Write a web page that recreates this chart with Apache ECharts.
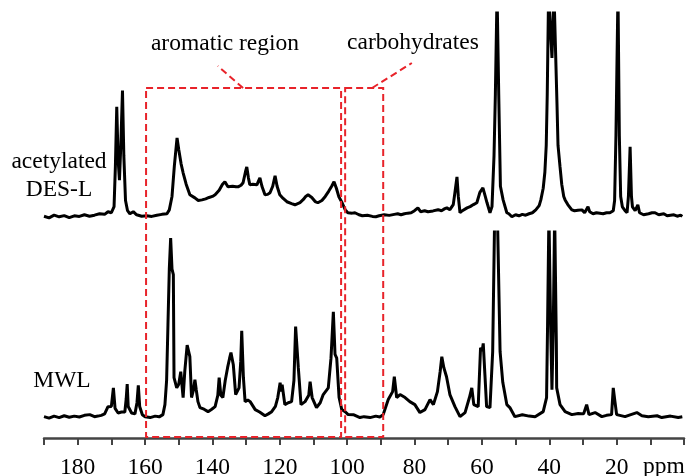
<!DOCTYPE html>
<html><head><meta charset="utf-8">
<script src="https://cdn.jsdelivr.net/npm/echarts@6/dist/echarts.min.js"></script>
<style>html,body{margin:0;padding:0;background:#fff}#c{width:690px;height:476px}</style>
</head><body><div id="c"></div>
<script>
// acetylated DES-L spectrum: [ppm, intensity]
const desL = [
[190,0.3],[188.5,-0.5],[187,0.8],[185.5,0],[184,0.6],[182.5,-0.4],[181,0.5],[179.5,0.2],[178,1.0],[176.5,0.3],[175,0.8],[173.5,1.5],[172,1.2],[171,2.5],[170,2.0],
[169.2,5],[168.8,25],[168.4,54],[168.0,28],[167.6,18],[167.2,35],[166.7,62],[166.3,30],[165.8,8],[165.2,3],[164.5,1.5],[163.5,2.5],[162.5,1],[161,0.3],[159.5,0.5],[158,0.2],[156.5,0.8],[155,1.2],[153.5,1.5],[152.8,3.4],
[152.0,10],[151.3,25],[150.5,38.7],[150.0,33],[149.3,26],[148.7,21.6],[147.8,16],[146.7,10.8],[145.2,9.3],[144.2,8],[143.1,8.3],[142,8.8],[141,9.5],[140,10],[139.2,10.8],
[138,13],[137,16],[136.3,17.2],[135.4,14.7],[134,15],[133,14.7],[132.4,14.7],[131.5,15.5],[130.9,16.7],[130.2,22],[129.8,24.5],[129.3,19],[128.9,15.7],[128,16],[126.8,15.7],[126.2,18],[125.9,19.1],[125.3,15],[124.4,10.8],[123.6,11],[122.9,11.8],[122.1,15],[121.4,20.1],[120.8,15],[120.0,10.8],
[119,9],[117.9,7.4],[116.5,6.5],[115.5,5.9],[114,7],[113,8.5],[112.3,10],[111.6,10.8],[110.5,9.5],[109.5,7.5],[108.7,6.9],[107.5,8],[106.5,10],[105.5,12.5],[104.6,15],[103.9,17.2],[103.2,14],[102.5,10],[101.5,6.9],[100.6,3.5],[99.8,2],
[98.5,1.8],[97.7,2],[96.5,1],[95.5,0.5],[94,0.8],[92.5,0.2],[91.5,0],[90.5,0.5],[89,1],[87.5,0.7],[86,1.2],[85,1.5],[84,1],[83,1.5],[82,1.8],[81,2],[80,3],[79,4.4],[78.2,2.5],[77,3],[76,2.5],[74.5,2.9],[74,2],[73,3.5],[72,3],[71,4],[70.4,4.4],[69.5,3.5],
[68.5,6],[68,12],[67.4,19.6],[67.0,10],[66.5,2],[65.8,3],[64.4,4.4],[63.5,5],[62.5,6],[61.5,6.9],[60.6,12],[59.7,14.2],[59.0,10],[58.5,7],[57.6,2],[57.0,5],[56.4,30],[56.0,60],[55.5,110],[55.0,60],[54.5,15],[53.7,8.3],[52.6,2],[52,1.5],[51.1,0],
[50,1],[49,0.5],[48,1.2],[47,0.8],[46,1.5],[45,2],[44,3.4],[43,5.5],[42.5,8.3],[41.8,14],[41.3,22],[40.9,35],[40.6,60],[40.2,110],[39.8,110],[39.2,78],[38.6,110],[38.2,110],[37.7,55],[37.4,35],[36.8,24.5],[36.3,16],[35.7,10],[35.3,8.3],[34.5,6],[33.3,3.4],[32.5,3],[31.5,3.2],[30.3,3.4],[29.5,2],[28.5,4.9],[28,2.5],[27,1.5],[26,2],[25.5,2],[24,1.5],[23,2],[22,2],
[21,3],[20.6,8],[20.2,40],[19.6,110],[19.2,40],[18.8,10],[18.3,4.9],[17.5,3],[16.9,2],[16.5,10],[16.0,34.3],[15.6,10],[15.3,4.9],[14.5,3],[13.7,5.9],[13.2,2],[12,1],[11.5,0.5],[10.5,1.5],[9.5,2],[8.6,2],[7.5,1],[6,1.5],[5,0.5],[4.7,0],[3,1],[2,0.3],[1,0.8],[0.5,0.2]
];
// MWL spectrum: [ppm, intensity]
const mwl = [
[190,0.5],[188.5,-0.3],[187,0.8],[185.5,0],[184,1],[182.5,0.2],[181,0.8],[179.5,0.3],[178,1.2],[176.4,1.6],[175,0.5],[174,0.8],[173,1.2],[172,2],[171.0,5.9],[170.0,6],[169.4,16],[168.9,5],[168,2.5],[167,3],[166,3],[165.6,10],[165.3,18],[165.0,6],[164,2.5],[163,2],[162.4,8],[162.0,17.4],[161.6,6],[160.8,1.5],[160,0.5],[158.5,0],[157,0.8],[155.8,0.4],[154.7,1.6],
[154.1,7],[153.6,20],[153.2,50],[152.8,80],[152.4,96.7],[152.0,80],[151.6,77],[151.4,21.5],[150.6,16],[150.0,18],[149.4,24.7],[148.7,10.8],[148.2,25],[147.5,39],[146.7,32.8],[146.2,10.8],[145.6,15],[145.2,20.4],[144.8,15],[144.3,8.6],[143.7,5.4],[142.5,4.5],[141.3,3.2],[140.2,4.5],[139.2,5.9],
[138.4,12],[138.0,21.5],[137.5,12],[136.9,10.8],[136.2,20],[135.5,26.9],[134.9,32],[134.5,35],[133.8,28.5],[133.1,12.4],[132.1,16],[131.6,30],[131.3,46.8],[130.8,21.5],[130.3,8.6],[129.5,9.5],[128.8,8.6],[127.3,4.3],[126,3],[124.4,1],[123.4,2],[122.4,3.2],
[121.3,6],[120.6,10.8],[119.9,18.8],[119.6,14],[119.3,17.7],[118.5,7],[117.5,8],[116.5,8.6],[115.8,20],[115.3,49],[114.5,26.9],[113.7,7],[112.5,8.6],[111.4,12],[111.0,19.4],[110.4,10.8],[109.1,5.4],[108,8],[107.1,12.4],[105.6,16],[104.8,32],[104.1,57],[103.6,34],[103.1,32],[102.4,10.8],[101.6,4.3],
[100.5,3],[99.7,1.6],[98,1.5],[96.2,0],[95,0.5],[93.2,0],[91.5,0.8],[90.3,0.3],[89.3,1.6],[87.8,9.7],[86.5,14],[86.0,22],[85.3,10.8],[84.3,12.4],[82.8,10.8],[81.4,8.6],[79.9,7],[78.4,2.7],[76.9,4.3],[75.4,9.7],[74.4,7],[73.2,14],[72.4,24.7],[71.9,32.8],[71.3,26.9],[70.5,22],[69.5,12.4],[68.0,5.9],[66.5,0.5],
[65.0,2.7],[63.7,10.8],[63.0,16],[62.4,7],[61.1,5.9],[60.4,37.6],[59.9,36],[59.6,40],[59.1,23],[58.6,5.9],[57.6,5.4],[56.8,35.5],[56.2,110],[55.8,110],[55.4,110],[54.6,35.5],[53.8,19],[52.6,7],[51.7,5.4],[50.2,0.5],[48,1.5],[46,0.8],[44.2,0.5],
[41.8,3.2],[40.8,10.8],[40.5,50],[40.1,110],[39.6,50],[39.2,15],[38.8,50],[38.4,110],[37.9,40],[37.8,16],[36.8,7],[35.3,3.2],[33.3,1.6],[31.4,2.2],[29.8,2],[28.9,7],[28.2,1.6],[26.4,2.7],[24.4,0.5],[23,1.2],[21.5,1.6],[21.0,16],[20.5,8.6],[20.0,1.6],[17.5,0.5],[16,1.5],[14.0,2.7],[12.5,1],[10.6,0.5],[8,1],[6.6,0],[4,0.8],[1.7,0],[0.5,0.4]
];
const tickLabels = [180,160,140,120,100,80,60,40,20];
const aromaticRange = [159.7, 101.8];
const carbRange = [100.6, 89.3];

const FONT = '"Liberation Serif","Times New Roman",serif';
const RED = '#e8232a';
const chart = echarts.init(document.getElementById('c'));
const xBase = {type:'value', min:0, max:190, interval:10, inverse:true, splitLine:{show:false}};
chart.setOption({
  animation:false,
  grid:[{left:44,right:6,top:13,height:214,outerBoundsMode:'none',containLabel:false},
        {left:44,right:6,top:232,bottom:38,outerBoundsMode:'none',containLabel:false}],
  xAxis:[
    Object.assign({}, xBase, {gridIndex:0, show:false}),
    Object.assign({}, xBase, {gridIndex:1,
      axisLine:{onZero:false,lineStyle:{color:'#444',width:2.5}},
      axisTick:{length:7,lineStyle:{color:'#444',width:2}},
      axisLabel:{margin:18,color:'#000',fontSize:23.5,fontFamily:FONT,
        formatter:v=>tickLabels.includes(v)?String(v):''}})
  ],
  yAxis:[{gridIndex:0,type:'value',min:-5,max:100,show:false},{gridIndex:1,type:'value',min:-11,max:100,show:false}],
  series:[
    {type:'line',xAxisIndex:0,yAxisIndex:0,data:desL,showSymbol:false,clip:true,lineStyle:{color:'#000',width:3}},
    {type:'line',xAxisIndex:1,yAxisIndex:1,data:mwl,showSymbol:false,clip:true,lineStyle:{color:'#000',width:3}}
  ]
});
const px = v => chart.convertToPixel({xAxisIndex:1}, v);
const dash = {fill:'none',stroke:RED,lineWidth:2,lineDash:[7,4]};
const txt = (t,x,y) => ({type:'text',z:10,style:{text:t,x:x,y:y,font:'23.5px '+FONT,fill:'#000',align:'center',verticalAlign:'middle'}});
chart.setOption({graphic:[
  {type:'rect',z:20,shape:{x:px(aromaticRange[0]),y:88,width:px(aromaticRange[1])-px(aromaticRange[0]),height:349},style:dash},
  {type:'rect',z:20,shape:{x:px(carbRange[0]),y:88,width:px(carbRange[1])-px(carbRange[0]),height:349},style:dash},
  {type:'line',z:20,shape:{x1:px(130.9),y1:88,x2:px(138.4),y2:66},style:dash},
  {type:'line',z:20,shape:{x1:px(92.6),y1:88,x2:px(80.8),y2:63},style:dash},
  txt('aromatic region',225,44),
  txt('carbohydrates',413,43),
  txt('acetylated',59,162),
  txt('DES-L',59,190),
  txt('MWL',62,381),
  txt('ppm',664,467)
]});
</script></body></html>
